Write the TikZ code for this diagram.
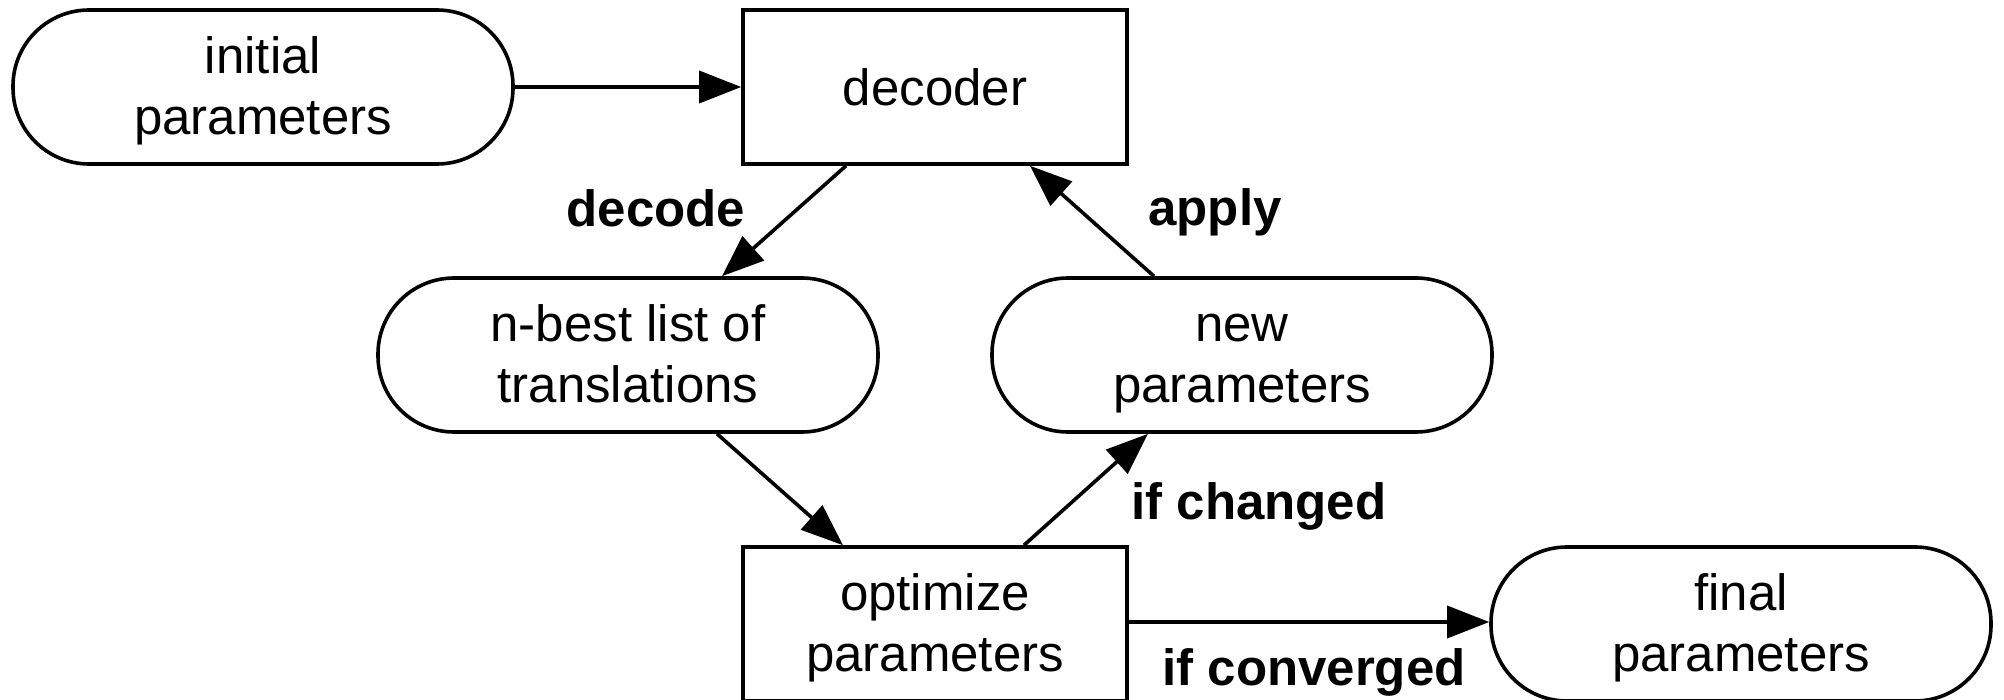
\documentclass[tikz,border=0pt]{standalone}
\usepackage{fontspec}
\setmainfont{Liberation Sans}
\usetikzlibrary{arrows.meta}
\newcommand{\twolines}[2]{\raisebox{-2.2pt}[\height][\depth]{\begin{tabular}{@{}c@{}}#1\\#2\end{tabular}}}
\begin{document}
\begin{tikzpicture}[x=0.5pt,y=-0.5pt,
  every node/.style={font=\fontsize{25.5}{30.5}\selectfont, align=center, inner sep=0pt},
  pill/.style={draw, line width=1.8pt, rounded corners=38pt, minimum width=250pt, minimum height=77pt},
  procbox/.style={draw, line width=1.8pt, minimum width=192pt, minimum height=77pt},
  conn/.style={line width=1.8pt, -{Triangle[length=21pt,width=16pt]}},
  lbl/.style={font=\fontsize{25.5}{30.5}\selectfont\bfseries}]
\useasboundingbox (0,0) rectangle (2004,700);
\node[pill] (init) at (263,87) {\twolines{initial}{parameters}};
\node[procbox] (dec) at (935,87) {decoder};
\node[pill] (nb) at (628,355) {\twolines{n-best list of}{translations}};
\node[pill] (new) at (1242,355) {\twolines{new}{parameters}};
\node[procbox] (opt) at (935,624) {\twolines{optimize}{parameters}};
\node[pill] (fin) at (1741,624) {\twolines{final}{parameters}};
\draw[conn] (init.east) -- (dec.west);
\draw[conn] ([xshift=-44.5pt]dec.south) -- ([xshift=47pt]nb.north);
\draw[conn] ([xshift=-44pt]new.north) -- ([xshift=47.5pt]dec.south);
\draw[conn] ([xshift=44.5pt]nb.south) -- ([xshift=-46pt]opt.north);
\draw[conn] ([xshift=44.5pt]opt.north) -- ([xshift=-47pt]new.south);
\draw[conn] ([yshift=1pt]opt.east) -- ([yshift=1pt]fin.west);
\node[lbl] (ldec) at (656,208) {decode};
\node[lbl] (lapp) at (1215,212) {apply};
\node[lbl] (lchg) at (1259,506) {if changed};
\node[lbl] (lconv) at (1314,672) {if converged};
\end{tikzpicture}
\end{document}
